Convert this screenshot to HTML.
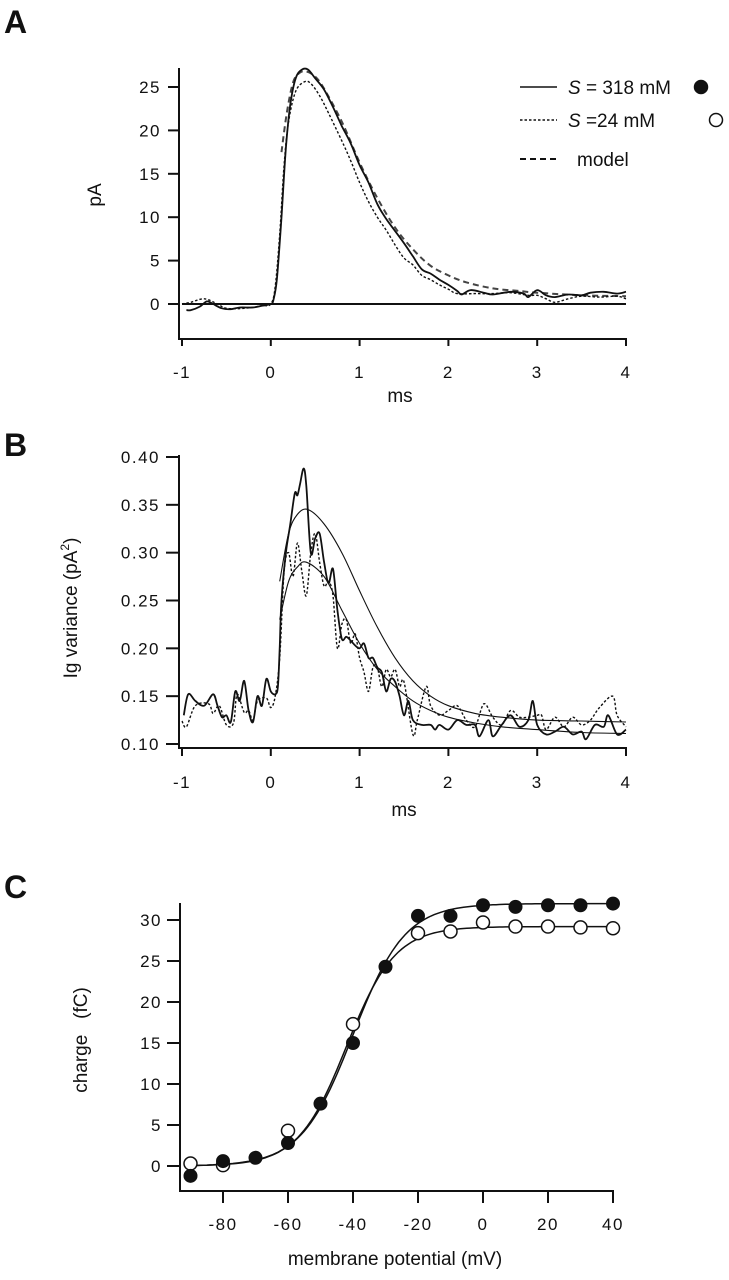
<!DOCTYPE html>
<html><head><meta charset="utf-8"><style>
html,body{margin:0;padding:0;background:#fff;}
svg{display:block;font-family:"Liberation Sans",Arial,sans-serif;}
.tk{font-size:17px;letter-spacing:1.5px;fill:#111;}
.lb{font-size:19px;fill:#111;}
.pl{font-size:32px;font-weight:bold;fill:#111;}
</style></head><body>
<svg id="fig" width="729" height="1280" viewBox="0 0 729 1280">
<text class="pl" x="4" y="33">A</text>
<text class="pl" x="4" y="456">B</text>
<text class="pl" x="4" y="898">C</text>
<g id="gA"></g>
<g id="gB"></g>
<g id="gC"></g>
</svg>
<script>
// Panel A data
const aSolidT=[-0.95,-0.9,-0.8,-0.72,-0.65,-0.55,-0.45,-0.35,-0.2,-0.1,0,0.03,0.07,0.12,0.17,0.22,0.28,0.35,0.42,0.5,0.6,0.7,0.8,0.9,1.0,1.1,1.2,1.3,1.4,1.5,1.6,1.7,1.8,1.9,2.0,2.1,2.15,2.25,2.4,2.5,2.7,2.85,2.9,3.0,3.1,3.2,3.35,3.5,3.6,3.75,3.9,4.0];
const aSolidV=[-0.7,-0.7,-0.3,0.3,0,-0.5,-0.6,-0.4,-0.4,-0.2,0,0.5,3,10,18,23,26,27,27,26,24.7,22.7,20.5,18.5,16,14,11.5,9.8,8.4,7,5.5,4,3.5,2.8,2.2,1.5,1.1,1.6,1.3,1.1,1.4,1.2,0.8,1.6,1.0,0.8,1.1,1.0,1.3,1.4,1.2,1.4];
const aDotT=[-1,-0.9,-0.75,-0.6,-0.5,-0.3,-0.1,0,0.05,0.1,0.15,0.2,0.28,0.38,0.45,0.55,0.65,0.8,0.9,1.0,1.1,1.2,1.3,1.4,1.5,1.6,1.7,1.8,1.9,2.0,2.1,2.3,2.5,2.7,2.9,3.0,3.1,3.2,3.35,3.5,3.7,3.9,4.0];
const aDotV=[0,0.2,0.6,0,-0.5,-0.5,-0.2,0,2,8,16,21,24.5,25.6,25.4,24,22,18.8,16.5,14,11.8,10,8.5,6.8,5.3,4.5,3.3,2.8,2.2,1.7,1.2,1.2,1.2,1.3,1.0,1.0,0.6,0.2,0.6,0.9,0.8,0.9,0.6];
const aModelT=[0.12,0.18,0.25,0.32,0.4,0.5,0.6,0.8,1.0,1.2,1.4,1.6,1.8,2.0,2.2,2.5,2.8,3.0,3.5,4.0];
const aModelV=[17.5,22,25.5,26.6,26.8,26.2,24.8,21,16.3,12.2,8.8,6.3,4.4,3.3,2.5,1.8,1.5,1.3,1.0,0.9];
const aYTicks=[0,5,10,15,20,25];
const msTicks=[-1,0,1,2,3,4];
// Panel B data
const bSolidT=[-0.98,-0.93,-0.85,-0.75,-0.65,-0.6,-0.55,-0.5,-0.45,-0.4,-0.35,-0.3,-0.25,-0.2,-0.15,-0.1,-0.05,0,0.05,0.08,0.1,0.12,0.17,0.22,0.27,0.3,0.33,0.37,0.4,0.45,0.5,0.55,0.6,0.65,0.7,0.75,0.8,0.85,0.9,0.95,1.0,1.05,1.1,1.15,1.2,1.25,1.3,1.35,1.4,1.45,1.5,1.55,1.6,1.7,1.8,1.85,1.9,2.0,2.1,2.2,2.3,2.35,2.45,2.5,2.6,2.7,2.8,2.9,2.95,3.0,3.1,3.2,3.3,3.4,3.5,3.55,3.65,3.75,3.8,3.9,4.0];
const bSolidV=[0.13,0.152,0.145,0.14,0.152,0.14,0.128,0.13,0.123,0.155,0.145,0.166,0.135,0.123,0.15,0.14,0.168,0.155,0.152,0.16,0.2,0.25,0.3,0.33,0.362,0.36,0.372,0.388,0.37,0.3,0.315,0.32,0.29,0.268,0.283,0.24,0.21,0.212,0.208,0.203,0.2,0.205,0.19,0.19,0.18,0.175,0.155,0.168,0.165,0.15,0.13,0.145,0.125,0.12,0.12,0.115,0.12,0.115,0.125,0.12,0.12,0.108,0.125,0.108,0.12,0.13,0.118,0.125,0.145,0.12,0.11,0.113,0.118,0.11,0.113,0.105,0.12,0.118,0.13,0.11,0.115];
const bDotT=[-1,-0.95,-0.85,-0.7,-0.65,-0.58,-0.5,-0.42,-0.38,-0.3,-0.25,-0.2,-0.15,-0.05,0,0.05,0.1,0.15,0.2,0.25,0.3,0.35,0.4,0.45,0.5,0.55,0.6,0.65,0.7,0.75,0.8,0.85,0.9,0.95,1.0,1.05,1.1,1.15,1.2,1.25,1.3,1.35,1.4,1.45,1.5,1.6,1.65,1.75,1.8,1.9,2.0,2.1,2.2,2.3,2.4,2.5,2.6,2.7,2.8,2.9,3.0,3.05,3.1,3.2,3.3,3.4,3.5,3.6,3.7,3.85,3.9,4.0];
const bDotV=[0.124,0.118,0.14,0.142,0.132,0.14,0.12,0.122,0.152,0.133,0.135,0.125,0.145,0.148,0.138,0.15,0.19,0.28,0.3,0.275,0.31,0.28,0.255,0.3,0.32,0.29,0.265,0.27,0.255,0.2,0.225,0.23,0.205,0.215,0.19,0.175,0.155,0.18,0.18,0.16,0.178,0.17,0.178,0.16,0.165,0.11,0.125,0.16,0.14,0.13,0.135,0.14,0.125,0.118,0.142,0.128,0.12,0.135,0.128,0.128,0.13,0.13,0.115,0.128,0.118,0.128,0.12,0.125,0.138,0.15,0.13,0.118];
const bFitHiT=[0.1,0.2,0.3,0.42,0.6,0.8,1.0,1.2,1.4,1.6,1.8,2.0,2.3,2.6,3.0,3.5,4.0];
const bFitHiV=[0.27,0.32,0.34,0.345,0.33,0.3,0.26,0.222,0.19,0.166,0.15,0.14,0.132,0.128,0.125,0.124,0.123];
const bFitLoT=[0.1,0.2,0.3,0.4,0.6,0.8,1.0,1.2,1.4,1.6,1.8,2.0,2.3,2.6,3.0,3.5,4.0];
const bFitLoV=[0.23,0.27,0.285,0.29,0.275,0.24,0.205,0.178,0.16,0.145,0.135,0.128,0.122,0.118,0.115,0.112,0.111];
const bYTicks=[0.10,0.15,0.20,0.25,0.30,0.35,0.40];
// Panel C data
const cFilledV=[-90,-80,-70,-60,-50,-40,-30,-20,-10,0,10,20,30,40];
const cFilledQ=[-1.2,0.6,1.0,2.8,7.6,15,24.3,30.5,30.5,31.8,31.6,31.8,31.8,32];
const cOpenV=[-90,-80,-60,-40,-20,-10,0,10,20,30,40];
const cOpenQ=[0.3,0.1,4.3,17.3,28.4,28.6,29.7,29.2,29.2,29.1,29.0];
const cFitQmax=[32,29.2];
const cFitVhalf=[-40,-42];
const cFitSlope=[8,7.5];
const cXTicks=[-80,-60,-40,-20,0,20,40];
const cYTicks=[0,5,10,15,20,25,30];

const NS='http://www.w3.org/2000/svg';
function mk(parent,tag,attrs){const e=document.createElementNS(NS,tag);for(const k in attrs)e.setAttribute(k,attrs[k]);parent.appendChild(e);return e;}
function path(xs,ys,fx,fy){return xs.map((x,i)=>(i?'L':'M')+fx(x).toFixed(1)+' '+fy(ys[i]).toFixed(1)).join(' ');}
function spath(xs,ys,fx,fy){const p=xs.map((x,i)=>[fx(x),fy(ys[i])]);let d='M'+p[0][0].toFixed(1)+' '+p[0][1].toFixed(1);
 for(let i=0;i<p.length-1;i++){const a=p[Math.max(0,i-1)],b=p[i],c=p[i+1],n=p[Math.min(p.length-1,i+2)];
 const c1x=b[0]+(c[0]-a[0])/6,c1y=b[1]+(c[1]-a[1])/6,c2x=c[0]-(n[0]-b[0])/6,c2y=c[1]-(n[1]-b[1])/6;
 d+=' C'+c1x.toFixed(1)+' '+c1y.toFixed(1)+' '+c2x.toFixed(1)+' '+c2y.toFixed(1)+' '+c[0].toFixed(1)+' '+c[1].toFixed(1);}return d;}

// ---------- Panel A ----------
const gA=document.getElementById('gA');
const axA=v=>182+(v+1)*88.8, ayA=v=>304-v*8.68;
let e;
e=mk(gA,'path',{d:'M179 68 L179 339 L627 339',fill:'none',stroke:'#111','stroke-width':2});


aYTicks.forEach(v=>{mk(gA,'line',{x1:168,x2:179,y1:ayA(v),y2:ayA(v),stroke:'#111','stroke-width':2});
 e=mk(gA,'text',{class:'tk',x:161,y:ayA(v)+6,'text-anchor':'end'});e.textContent=v;
 
 });
msTicks.forEach(v=>{mk(gA,'line',{x1:axA(v),x2:axA(v),y1:339,y2:346,stroke:'#111','stroke-width':2});
 e=mk(gA,'text',{class:'tk',x:axA(v),y:378,'text-anchor':'middle'});e.textContent=v;
 
 });
e=mk(gA,'text',{class:'lb',x:400,y:402,'text-anchor':'middle'});e.textContent='ms';


e=mk(gA,'text',{class:'lb',x:0,y:0,transform:'translate(101 195) rotate(-90)','text-anchor':'middle'});e.textContent='pA';


e=mk(gA,'line',{x1:axA(-1),x2:axA(4),y1:ayA(0),y2:ayA(0),stroke:'#111','stroke-width':2});


e=mk(gA,'path',{d:spath(aModelT,aModelV,axA,ayA),fill:'none',stroke:'#444','stroke-width':2,'stroke-dasharray':'6 4'});


e=mk(gA,'path',{d:spath(aDotT,aDotV,axA,ayA),fill:'none',stroke:'#111','stroke-width':1.4,'stroke-dasharray':'2.5 2'});


e=mk(gA,'path',{d:spath(aSolidT,aSolidV,axA,ayA),fill:'none',stroke:'#111','stroke-width':1.8});


// legend
const leg=[[87,'none','= 318 mM',true],[120,'2.5 2','=24 mM',false],[159,'6 4','model',null]];
leg.forEach(l=>{
 e=mk(gA,'line',{x1:520,x2:557,y1:l[0],y2:l[0],stroke:'#111','stroke-width':l[1]=='6 4'?2:1.6,'stroke-dasharray':l[1]});
 
 
 e=mk(gA,'text',{class:'lb',x:l[2]=='model'?577:568,y:l[0]+7});
 
 
 if(l[2]=='model'){e.textContent='model';}else{const s=mk(e,'tspan',{'font-style':'italic'});s.textContent='S';const t=mk(e,'tspan',{});t.textContent=' '+l[2];}
 if(l[3]!==null){e=mk(gA,'circle',{cx:l[3]?701:716,cy:l[0],r:6.5,fill:l[3]?'#111':'#fff',stroke:'#111','stroke-width':1.5});
 
 }
});

// ---------- Panel B ----------
const gB=document.getElementById('gB');
const axB=v=>182+(v+1)*88.8, ayB=v=>744-(v-0.10)*956.7;
e=mk(gB,'path',{d:'M179 455 L179 748 L627 748',fill:'none',stroke:'#111','stroke-width':2});


bYTicks.forEach(v=>{mk(gB,'line',{x1:166,x2:179,y1:ayB(v),y2:ayB(v),stroke:'#111','stroke-width':2});
 e=mk(gB,'text',{class:'tk',x:160,y:ayB(v)+6,'text-anchor':'end'});e.textContent=v.toFixed(2);
 
 });
msTicks.forEach(v=>{mk(gB,'line',{x1:axB(v),x2:axB(v),y1:748,y2:756,stroke:'#111','stroke-width':2});
 e=mk(gB,'text',{class:'tk',x:axB(v),y:788,'text-anchor':'middle'});e.textContent=v;
 
 });
e=mk(gB,'text',{class:'lb',x:404,y:816,'text-anchor':'middle'});e.textContent='ms';


e=mk(gB,'text',{class:'lb',x:0,y:0,transform:'translate(77 608) rotate(-90)','text-anchor':'middle'});


{const a=mk(e,'tspan',{});a.textContent='Ig variance (pA';const b=mk(e,'tspan',{dy:-8,'font-size':12});b.textContent='2';const c=mk(e,'tspan',{dy:8});c.textContent=')';}
e=mk(gB,'path',{d:spath(bDotT,bDotV,axB,ayB),fill:'none',stroke:'#111','stroke-width':1.4,'stroke-dasharray':'2.5 2'});


e=mk(gB,'path',{d:spath(bSolidT,bSolidV,axB,ayB),fill:'none',stroke:'#111','stroke-width':1.8});


e=mk(gB,'path',{d:spath(bFitHiT,bFitHiV,axB,ayB),fill:'none',stroke:'#111','stroke-width':1.1});


e=mk(gB,'path',{d:spath(bFitLoT,bFitLoV,axB,ayB),fill:'none',stroke:'#111','stroke-width':1.1});



// ---------- Panel C ----------
const gC=document.getElementById('gC');
const axC=v=>223+(v+80)*3.25, ayC=v=>1166-v*8.2;
e=mk(gC,'path',{d:'M180 903 L180 1191 L614 1191',fill:'none',stroke:'#111','stroke-width':2});


cYTicks.forEach(v=>{mk(gC,'line',{x1:167,x2:180,y1:ayC(v),y2:ayC(v),stroke:'#111','stroke-width':2});
 e=mk(gC,'text',{class:'tk',x:162,y:ayC(v)+6,'text-anchor':'end'});e.textContent=v;
 
 });
cXTicks.forEach(v=>{mk(gC,'line',{x1:axC(v),x2:axC(v),y1:1191,y2:1203,stroke:'#111','stroke-width':2});
 e=mk(gC,'text',{class:'tk',x:axC(v),y:1230,'text-anchor':'middle'});e.textContent=v;
 
 });
e=mk(gC,'text',{class:'lb',x:395,y:1265,'text-anchor':'middle','xml:space':'preserve'});e.textContent='membrane potential  (mV)';


e=mk(gC,'text',{class:'lb',x:0,y:0,transform:'translate(87 1040) rotate(-90)','text-anchor':'middle','font-size':20});e.textContent='charge\u00a0\u00a0\u00a0(fC)';


for(let k=0;k<2;k++){const xs=[],ys=[];for(let v=-90;v<=40;v+=1){xs.push(v);ys.push(cFitQmax[k]/(1+Math.exp((cFitVhalf[k]-v)/cFitSlope[k])));}
 e=mk(gC,'path',{d:path(xs,ys,axC,ayC),fill:'none',stroke:'#111','stroke-width':1.5});
 
 }
cOpenV.forEach((v,i)=>{e=mk(gC,'circle',{cx:axC(v),cy:ayC(cOpenQ[i]),r:6.5,fill:'#fff',stroke:'#111','stroke-width':1.5});
 
 });
cFilledV.forEach((v,i)=>{e=mk(gC,'circle',{cx:axC(v),cy:ayC(cFilledQ[i]),r:6.5,fill:'#111',stroke:'#111','stroke-width':1});
 
 });
</script>
</body></html>
